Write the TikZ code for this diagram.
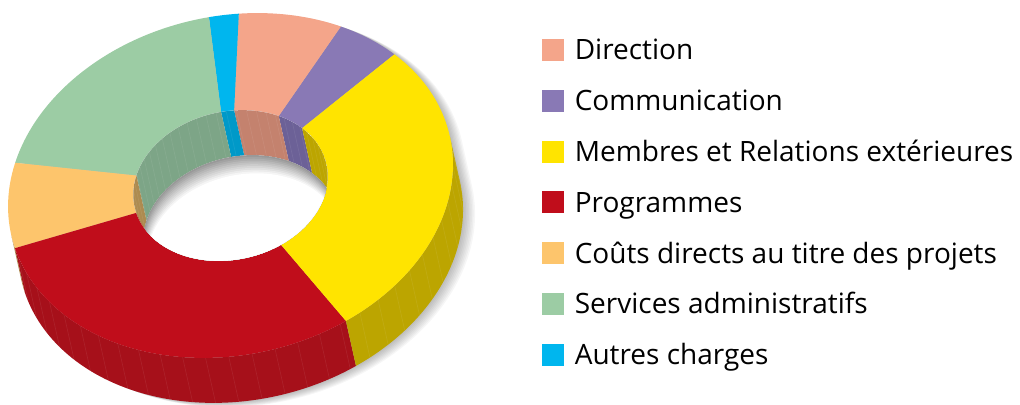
\documentclass[tikz,border=0pt]{standalone}
\usepackage{fontspec}
\setmainfont{Open Sans}
\usetikzlibrary{positioning}
% slice colours (top face)
\definecolor{cdir}{HTML}{F4A58A}
\definecolor{ccom}{HTML}{8979B5}
\definecolor{cmem}{HTML}{FFE400}
\definecolor{cpro}{HTML}{C00D1B}
\definecolor{ccou}{HTML}{FDC56C}
\definecolor{cser}{HTML}{9CCCA4}
\definecolor{coth}{HTML}{00B6EE}
% darker colours for the sides and the inner wall
\definecolor{wdir}{HTML}{C4826E}
\definecolor{wcom}{HTML}{6C6197}
\definecolor{wmem}{HTML}{BCA500}
\definecolor{wpro}{HTML}{A6101A}
\definecolor{wcou}{HTML}{AD8B50}
\definecolor{wser}{HTML}{7DA587}
\definecolor{woth}{HTML}{0099C8}
\tikzset{
    %Define style for legend boxes
    legbox/.style={
             rectangle, inner sep=0pt,
             minimum size=11pt},
    %Define style for legend labels
    legtext/.style={
             inner sep=0pt,
             text height=10pt, text depth=0pt,
             font=\fontsize{14}{16}\selectfont},
    % Define faint seam lines on the ring sides
    seam/.style={
            white, opacity=0.08,
            line width=0.3pt}
}
\begin{document}
\begin{tikzpicture}[x=0.5pt, y=0.5pt]
 \useasboundingbox (0,0) rectangle (1020,405);
 \begin{scope}[shift={(230.5,219.5)}, rotate=12.6, xscale=224.8, yscale=169.4]
  % soft shadow
  \foreach \k in {1,...,8}
    \fill[black, opacity=0.035, shift={(0.006*\k,-0.005*\k)}]
       (0:1) arc (0:180:1) -- ++(0,-0.272) arc (180:360:1) -- cycle;
  % outer side
  \foreach \a/\b/\c in {180/184.8/wcou, 184.8/291.7/wpro, 291.7/360/wmem}
    \fill[\c] (\a:1) arc (\a:\b:1) -- ++(0,-0.272) arc (\b:\a:1) -- cycle;
  \foreach \a in {188,194,...,356}
    \draw[seam] (\a:1) -- ++(0,-0.272);
  % top face
  \foreach \a/\b/\c in {33/50.7/ccom, 50.7/78.3/cdir, 78.3/86/coth, 86/155.9/cser,
                        155.9/184.8/ccou, 184.8/291.7/cpro, 291.7/393/cmem}
    \fill[\c] (\a:0.437) -- (\a:1) arc (\a:\b:1) -- (\b:0.437) arc (\b:\a:0.437) -- cycle;
  % hole
  \begin{scope}
   \clip (0,0) circle (0.437);
   \fill[white] (0,0) circle (0.437);
   \foreach \a/\b/\c in {33/50.7/wcom, 50.7/78.3/wdir, 78.3/86/woth, 86/155.9/wser,
                         155.9/184.8/wcou, 184.8/291.7/wpro, 291.7/393/wmem}
     \fill[\c] (\a:0.437) arc (\a:\b:0.437) -- ++(0,-0.272) arc (\b:\a:0.437) -- cycle;
   \foreach \a in {5,11,...,175}
     \draw[seam] (\a:0.437) -- ++(0,-0.272);
   \foreach \k in {0,...,10} {
     \pgfmathsetmacro\g{40-4*\k}
     \fill[black!\g] (0,-0.272-0.011*\k) circle (0.437);
   }
  \end{scope}
 \end{scope}
 % legend
 \node[legbox, fill=cdir] (kdir) at (553,355) {};
 \node[legbox, fill=ccom, below=14pt of kdir] (kcom) {};
 \node[legbox, fill=cmem, below=14pt of kcom] (kmem) {};
 \node[legbox, fill=cpro, below=14pt of kmem] (kpro) {};
 \node[legbox, fill=ccou, below=14pt of kpro] (kcou) {};
 \node[legbox, fill=cser, below=14pt of kcou] (kser) {};
 \node[legbox, fill=coth, below=14pt of kser] (koth) {};
 \node[legtext, right=5pt of kdir] (ldir) {Direction};
 \node[legtext, right=5pt of kcom] (lcom) {Communication};
 \node[legtext, right=5pt of kmem] (lmem) {Membres et Relations extérieures};
 \node[legtext, right=5pt of kpro] (lpro) {Programmes};
 \node[legtext, right=5pt of kcou] (lcou) {Coûts directs au titre des projets};
 \node[legtext, right=5pt of kser] (lser) {Services administratifs};
 \node[legtext, right=5pt of koth] (loth) {Autres charges};
\end{tikzpicture}
\end{document}
